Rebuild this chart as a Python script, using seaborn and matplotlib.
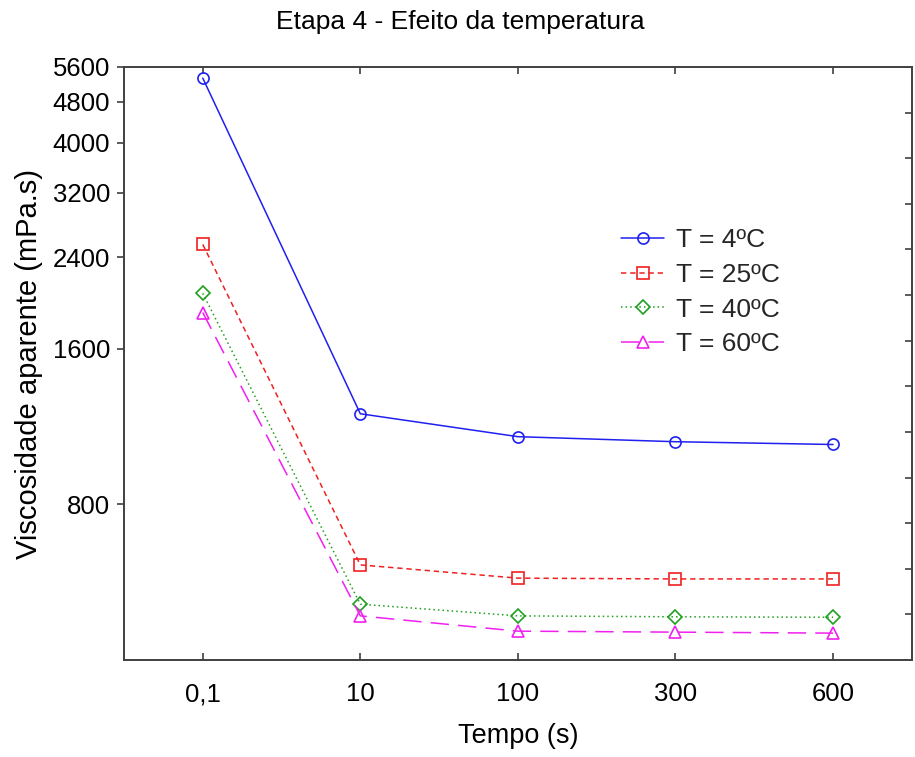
import matplotlib
matplotlib.use("Agg")
import matplotlib.pyplot as plt
import matplotlib.ticker as mticker
import numpy as np
import pandas as pd
import seaborn as sns

# Time categories (s) and apparent viscosity (mPa.s) at each temperature
tempo_labels = ["0,1", "10", "100", "300", "600"]
visc_4C = [5330, 1197, 1081, 1057, 1044]
visc_25C = [2543, 611, 576, 574, 574]
visc_40C = [2045, 513, 487, 485, 484]
visc_60C = [1878, 487, 455, 453, 451]
series_names = ["T = 4ºC", "T = 25ºC", "T = 40ºC", "T = 60ºC"]
y_ticks = [800, 1600, 2400, 3200, 4000, 4800, 5600]

sns.set_theme(style="white")
plt.rcParams["font.family"] = ["Liberation Sans", "DejaVu Sans"]

fig = plt.figure(figsize=(9.15, 7.57), dpi=100)
ax = fig.add_axes([0.1355, 0.128, 0.861, 0.7835])

positions = np.arange(len(tempo_labels))
styles = [
    dict(color="#2020f0", marker="o", linestyle="-"),
    dict(color="#f02020", marker="s", linestyle=(0, (3.5, 2.5))),
    dict(color="#20a020", marker="D", linestyle=(0, (1, 2))),
    dict(color="#f020f0", marker="^", linestyle=(0, (12, 6))),
]
all_values = [visc_4C, visc_25C, visc_40C, visc_60C]
for name, vals, st in zip(series_names, all_values, styles):
    df = pd.DataFrame({"tempo": positions, "visc": vals})
    ms = 8 if st["marker"] != "D" else 7
    sns.lineplot(data=df, x="tempo", y="visc", ax=ax, label=name,
                 color=st["color"], marker=st["marker"], linestyle=st["linestyle"],
                 linewidth=1.1, markersize=ms, markerfacecolor="none",
                 markeredgecolor=st["color"], markeredgewidth=1.2)

ax.set_yscale("log")
ax.set_ylim(400, 5600)
ax.set_xlim(-0.5, len(tempo_labels) - 0.5)
ax.yaxis.set_major_locator(mticker.FixedLocator(y_ticks))
ax.yaxis.set_major_formatter(mticker.FixedFormatter([str(t) for t in y_ticks]))
ax.yaxis.set_minor_locator(mticker.NullLocator())
ax.set_xticks(positions)
ax.set_xticklabels(tempo_labels)

spine_color = "#404040"
for sp in ax.spines.values():
    sp.set_visible(True)
    sp.set_color(spine_color)
    sp.set_linewidth(1.4)

ax.tick_params(axis="y", which="major", left=True, right=False, direction="out",
               length=5, width=1.2, color=spine_color, labelsize=18.5, pad=5,
               labelcolor="black")
ax.tick_params(axis="x", which="major", bottom=True, top=True, direction="in",
               length=5, width=1.2, color=spine_color, labelsize=18.5, pad=16,
               labelcolor="black")

# unlabelled linear ticks along the right edge
ax2 = ax.twinx()
ax2.set_ylim(400, 5600)
ax2.set_yticks(np.arange(800, 5600, 400))
ax2.tick_params(axis="y", direction="in", length=5, width=1.2, color=spine_color,
                labelright=False)
for sp in ax2.spines.values():
    sp.set_visible(False)

ax.set_xlabel("Tempo (s)", fontsize=19.5, labelpad=12, color="black")
ax.set_ylabel("Viscosidade aparente (mPa.s)", fontsize=21, labelpad=7, color="black")
fig.text(0.503, 0.971, "Etapa 4 - Efeito da temperatura", ha="center", va="center",
         fontsize=19, color="black")

leg = ax.legend(loc="upper left", bbox_to_anchor=(0.614, 0.75), frameon=False,
                fontsize=19, handlelength=1.65, handletextpad=0.45,
                labelspacing=0.4, borderpad=0)

fig.savefig("out.png", dpi=100)
